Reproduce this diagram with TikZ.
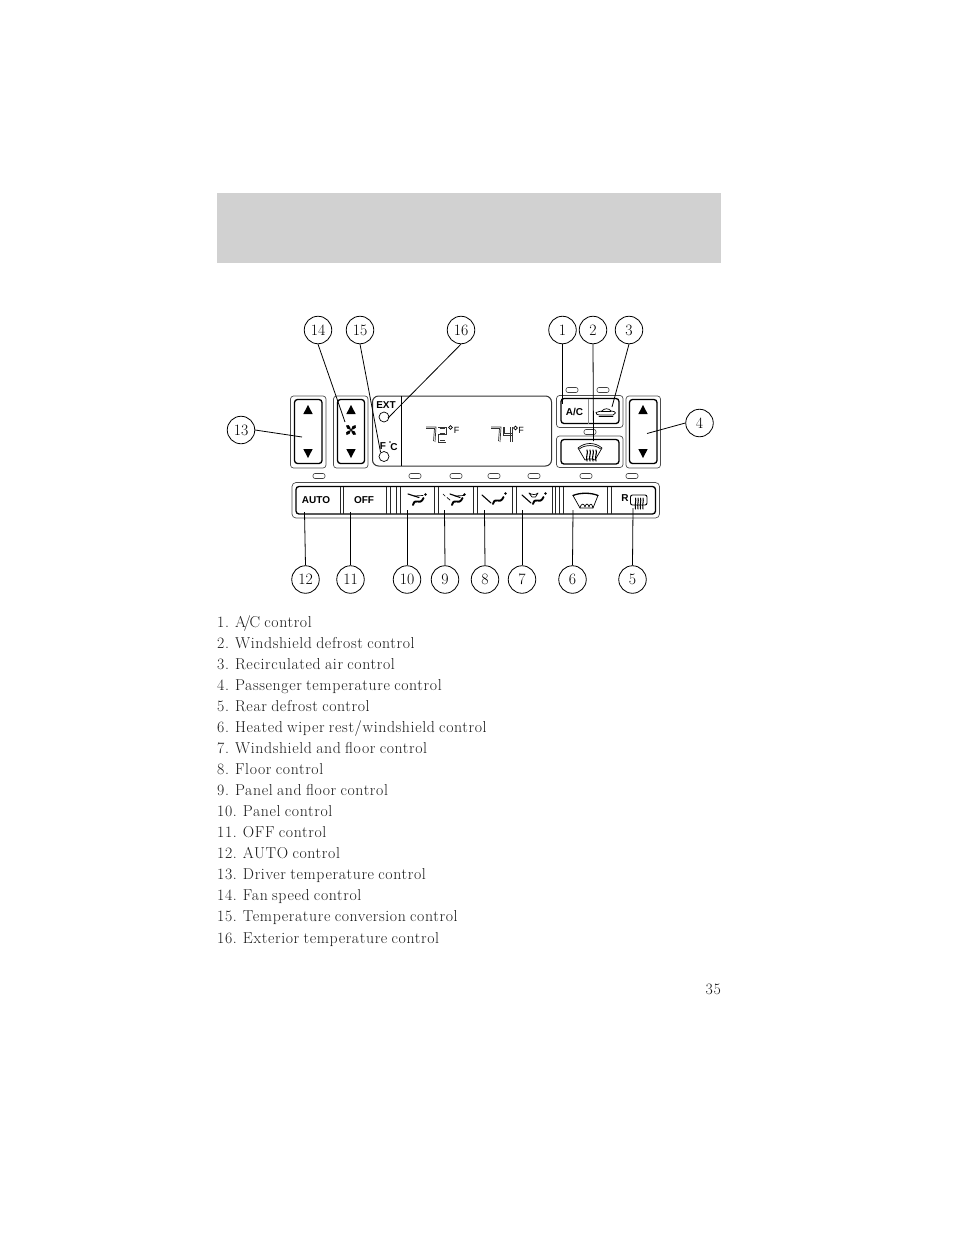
\documentclass[tikz,border=0pt]{standalone}
\usepackage{fontspec}
\newfontfamily\hv{Liberation Sans}
\newfontfamily\listfont{Latin Modern Roman}[LetterSpace=3.9,WordSpace=0.8]
\usetikzlibrary{calc}
\tikzset{x=1pt,y=-1pt,
 call/.style={circle,draw,line width=0.8pt,minimum size=27.5pt,inner sep=0pt,font=\fontsize{15.8}{18}\selectfont,fill=white},
 lead/.style={line width=0.8pt},
 listitem/.style={anchor=base west,inner sep=0pt,font=\listfont\fontsize{15.8}{18}\selectfont,text=black!90},
 outer/.style={draw=black!70,line width=0.7pt,rounded corners=3pt},
 inner/.style={draw=black,line width=1.3pt,rounded corners=3pt},
 ledmark/.style={draw=black!75,line width=0.6pt,rounded corners=2pt,fill=white},
 lab/.style={font=\hv\bfseries\fontsize{10}{10}\selectfont,inner sep=0pt},
 small/.style={font=\hv\fontsize{9}{9}\selectfont,inner sep=0pt},
 seg/.style={line width=0.7pt,draw=black!80},
 body/.style={line width=1.9pt,line cap=round,line join=round},
 icon/.style={line width=1.1pt,line cap=round,line join=round},
 thin/.style={line width=0.7pt,line cap=round,line join=round},
 divider/.style={line width=0.8pt,draw=black!85}}
\newcommand{\upar}[2]{\fill (#1,#2)--(#1-4.7,#2+9)--(#1+4.7,#2+9)--cycle;}
\newcommand{\dnar}[2]{\fill (#1,#2)--(#1-4.7,#2-9)--(#1+4.7,#2-9)--cycle;}
\newcommand{\bodyat}[2]{\draw[body] (#1,#2) .. controls (#1+1,#2-3) and (#1+2,#2-4.5) .. (#1+4,#2-3.5) .. controls (#1+6,#2-2.5) and (#1+9,#2-3) .. (#1+10.5,#2-7); \fill (#1+12.5,#2-10.5) circle (1.4pt);}
\begin{document}
\begin{tikzpicture}
\useasboundingbox (0,0) rectangle (954,1235);
\fill[fill=black!18] (217,193) rectangle (721,263);
% temp blocks
\draw[outer] (290.5,396) rectangle (326,468);
\draw[inner] (294.5,399.5) rectangle (322,463.5);
\upar{308}{405} \dnar{308}{458}
\draw[outer] (333.5,396) rectangle (368,468);
\draw[inner] (337.5,399.5) rectangle (364.5,463.5);
\upar{351}{405} \dnar{351}{458}
\foreach \a in {0,90,180,270}{\fill[rotate around={\a:(351,430)}] (351,430) .. controls (351.5,427) and (353,424.5) .. (355.5,425) .. controls (357,426) and (356.5,429) .. (351,430) -- cycle;}
% display
\draw[line width=1pt,draw=black!80,rounded corners=6pt] (372.5,396) rectangle (551.5,466);
\draw[line width=0.8pt] (401,396) -- (401,466);
\node[lab] (ext) at (386,405) {EXT};
\node[circle,draw,line width=0.7pt,minimum size=10pt,inner sep=0pt] (b16) at (384,417) {};
\node[lab] (fc) at (383,446) {F};
\node[lab] (cc) at (394,447) {C};
\fill (390,442) circle (0.8pt);
\node[circle,draw,line width=0.7pt,minimum size=10pt,inner sep=0pt] (b15) at (384,456.5) {};
% digits
\draw[seg] (426,427)--(436,427)--(435,442);
\draw[seg] (426,428.5)--(434.5,428.5)--(433.5,441);
\draw[seg] (438,427)--(446,427)--(446,434.5)--(438,434.5)--(438,442)--(446,442);
\draw[seg] (439.5,428.5)--(444.5,428.5) (439.5,433)--(444.5,433) (439.5,440.5)--(445,440.5);
\draw[line width=0.7pt] (450.5,427.5) circle (1.8pt);
\node[small] (f1) at (456.5,430) {F};
\draw[seg] (491,427)--(501,427)--(500,442);
\draw[seg] (491,428.5)--(499.5,428.5)--(498.5,441);
\draw[seg] (503,427)--(503,435)--(512,435);
\draw[seg] (504.5,427)--(504.5,433.5)--(512,433.5);
\draw[seg] (510,427)--(510,442) (512,427)--(512,442);
\draw[line width=0.7pt] (515.5,428) circle (1.8pt);
\node[small] (f2) at (521,430.5) {F};
% right group
\draw[outer] (556.5,395.5) rectangle (623,427.5);
\draw[inner] (561,398.5) rectangle (619,423.5);
\draw[line width=1.6pt,draw=black!45] (588.5,398.5)--(588.5,423.5);
\node[lab] (ac) at (574.5,412) {A/C};
\draw[thin] (597,414.5) -- (596,412.5) .. controls (598,411.5) and (600,411.5) .. (602,411) .. controls (604,408) and (609,408) .. (611,411) .. controls (614,411) and (615.5,412) .. (615.5,413) -- (613,415) -- (600,415) -- (597,414.5);
\draw[thin] (601,411.2) -- (611,411.2);
\draw[thin] (599,416.5) -- (613,416.5);
\draw[outer] (556.5,436) rectangle (623,467.5);
\draw[inner] (561,439.5) rectangle (619,464);
\draw[thin] (578,448) .. controls (585,442) and (595,442) .. (602,448) -- (595,460) .. controls (592,458.5) and (588,458.5) .. (585,460) -- cycle;
\draw[thin] (579.5,448.8) .. controls (585,444.5) and (595,444.5) .. (600.5,448.8);
\foreach \x in {587,590,593,596}{\draw[icon,line width=1.1pt] (\x,450) .. controls (\x+1.5,453) and (\x-1.5,456) .. (\x,461);}
\draw[outer] (626,396) rectangle (660.5,468);
\draw[inner] (629.5,399.5) rectangle (657,463.5);
\upar{643}{405} \dnar{643}{458}
% leds
\foreach \x/\y in {572/390,603/390,590/432,319/476,415/476,456/476,494/476,534/476,586/476,632/476}{\draw[ledmark] (\x-6,\y-2.5) rectangle (\x+6,\y+2.5);}
% bottom bar
\draw[outer,rounded corners=4pt] (292,482.5) rectangle (659.5,518);
\draw[inner] (296,486.5) rectangle (655.5,514);
\foreach \x in {340,343.5,386.5,390,396,400,434.5,438,473.5,477,512.5,516,552,555.5,559,563,607.5,611.5}{\draw[divider] (\x,486.5)--(\x,514);}
\node[lab] (auto) at (316,500.5) {AUTO};
\node[lab] (off) at (364,500.5) {OFF};
% vent icons
\bodyat{413}{505}
\draw[icon] (408,494)--(419,497.5); \draw[thin] (414,496)--(423,495.5);
\bodyat{452}{505}
\draw[thin] (443,494)--(445,496) (447,497.5)--(450,500);
\draw[icon] (450,494)--(460,497.5); \draw[thin] (455,496)--(464,495.5);
\bodyat{493}{504}
\draw[icon] (482,495)--(491,503);
\bodyat{533}{504}
\draw[icon] (522,495)--(531,503);
\draw[thin] (529,493) .. controls (532,495) and (536,495) .. (538,493) -- (535.5,497) -- (532,497) -- cycle;
% heated wiper
\draw[icon,line width=1.3pt] (573,495.5) .. controls (580,492.5) and (591,492.5) .. (598,495.5);
\draw[thin] (573,495.5) -- (580,508) -- (593,508) -- (598,495.5);
\draw[thin] (580,508) .. controls (581,503) and (584,503) .. (585,507) .. controls (586,503) and (588,503) .. (589,507) .. controls (590,503) and (592,503) .. (593,508);
% rear defrost
\node[lab] (rr) at (625,498.5) {R};
\draw[line width=0.9pt,rounded corners=2pt] (630.5,495)--(647,495)--(647,505)--(630.5,505)--cycle;
\foreach \x in {635.5,638,640.5,643}{\draw[icon,line width=1pt] (\x,498) .. controls (\x+1,501) and (\x-1,504) .. (\x,509);}
% lead ends
\coordinate (e1) at (562.5,404); \coordinate (e2) at (593.5,441); \coordinate (e3) at (612,407);
\coordinate (e4) at (647,433.5); \coordinate (e5) at (633,508); \coordinate (e6) at (573,510);
\coordinate (e7) at (522,510); \coordinate (e8) at (484.5,510); \coordinate (e9) at (444.5,510);
\coordinate (e10) at (407,510); \coordinate (e11) at (350.5,512); \coordinate (e12) at (304.5,512);
\coordinate (e13) at (302,437); \coordinate (e14) at (345,422);
\coordinate (e15) at (380.5,452); \coordinate (e16) at (388,418);
\node[call] (c1) at (562.5,330) {1};
\node[call] (c2) at (593,330) {2};
\node[call] (c3) at (629,330) {3};
\node[call] (c4) at (699.5,423) {4};
\node[call] (c5) at (632.5,579.5) {5};
\node[call] (c6) at (572.5,579.5) {6};
\node[call] (c7) at (522,579.5) {7};
\node[call] (c8) at (485,579.5) {8};
\node[call] (c9) at (445,579.5) {9};
\node[call] (c10) at (407,579.5) {10};
\node[call] (c11) at (350.5,579.5) {11};
\node[call] (c12) at (305.5,579.5) {12};
\node[call] (c13) at (241,430) {13};
\node[call] (c14) at (318,330) {14};
\node[call] (c15) at (360,330) {15};
\node[call] (c16) at (461,330) {16};
\foreach \n in {1,2,3,14,15,16}{\draw[lead] (c\n.south) -- (e\n);}
\foreach \n in {5,...,12}{\draw[lead] (c\n.north) -- (e\n);}
\draw[lead] (c4.west) -- (e4);
\draw[lead] (c13.east) -- (e13);
% list
\foreach \y/\t in {627/{1. A\kern-2.4pt/\kern-1.4pt C control},648/{2. Windshield defrost control},669/{3. Recirculated air control},690/{4. Passenger temperature control},711/{5. Rear defrost control},732/{6. Heated wiper rest/windshield control},753/{7. Windshield and floor control},774/{8. Floor control},795/{9. Panel and floor control},816/{10. Panel control},837/{11. OFF control},858/{12. AUTO control},879/{13. Driver temperature control},900/{14. Fan speed control},921/{15. Temperature conversion control},943/{16. Exterior temperature control}}{\node[listitem] (l\y) at (217,\y) {\t};}
\node[anchor=base east,inner sep=0pt,font=\listfont\fontsize{15.8}{18}\selectfont,text=black!90] (pg) at (721,994.5) {35};
\end{tikzpicture}
\end{document}
